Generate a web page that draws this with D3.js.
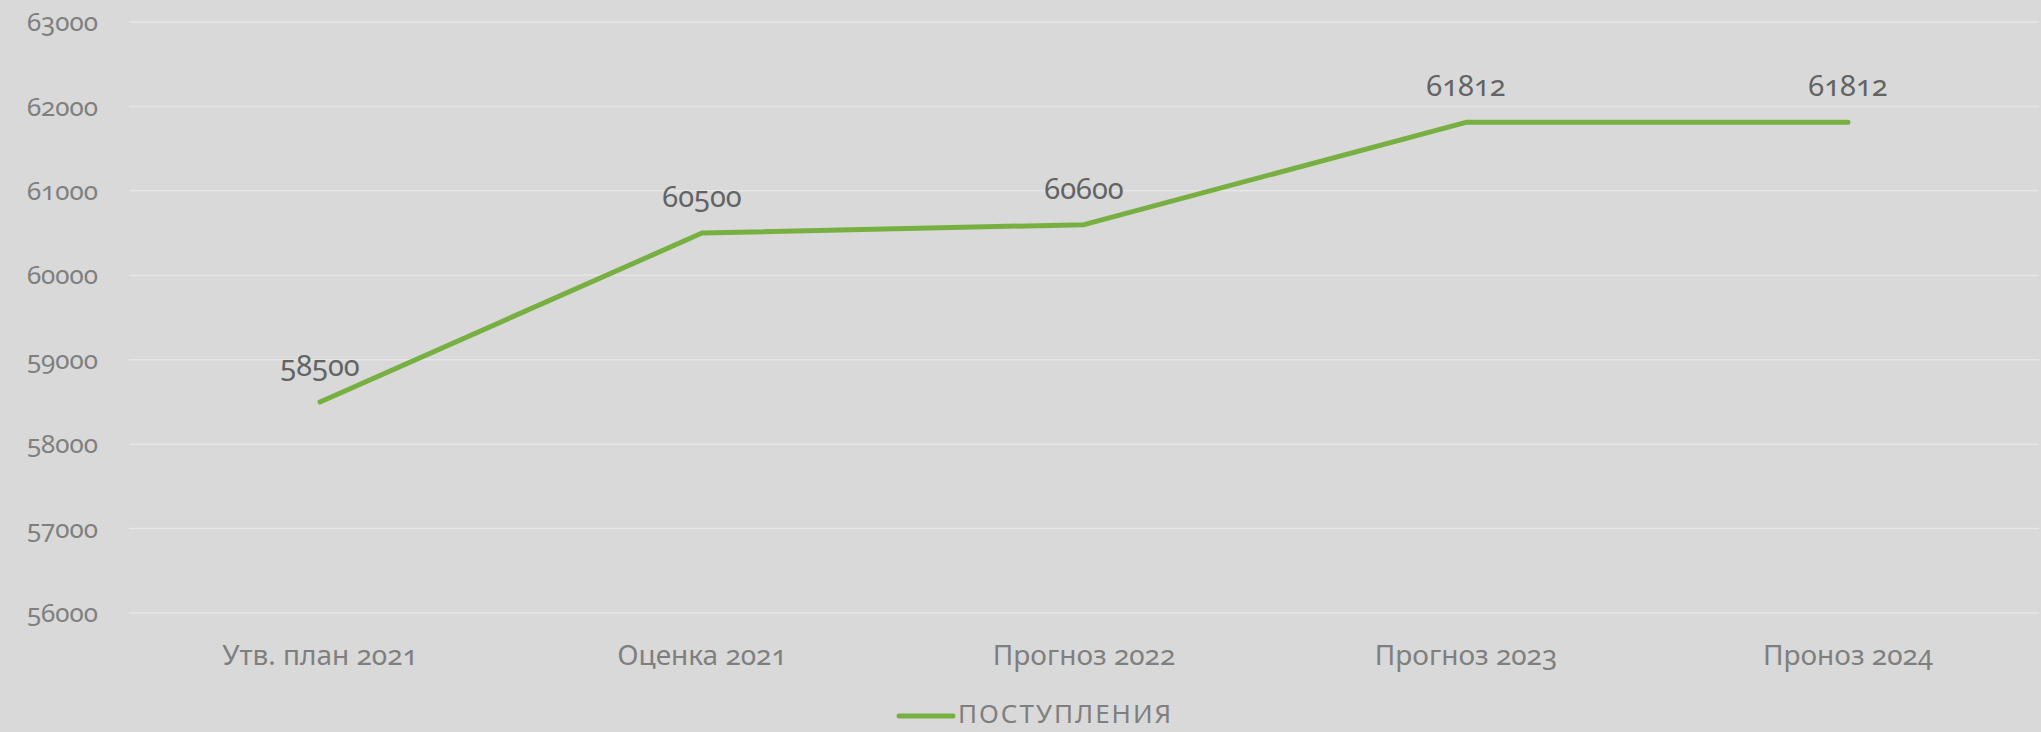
<!DOCTYPE html>
<html>
<head>
<meta charset="utf-8">
<script src="https://cdn.jsdelivr.net/npm/d3@7"></script>
<style>
  html, body { margin: 0; padding: 0; background: #d9d9d9; overflow: hidden; }
  svg { display: block; }
  text { font-family: "Noto Sans", "Open Sans", sans-serif; font-variant-numeric: oldstyle-nums; }
</style>
</head>
<body>
<svg id="chart"></svg>
<script>
// chart data
const categories = ["Утв. план 2021", "Оценка 2021", "Прогноз 2022", "Прогноз 2023", "Проноз 2024"];
const values = [58500, 60500, 60600, 61812, 61812];
const yTicks = [56000, 57000, 58000, 59000, 60000, 61000, 62000, 63000];
const seriesName = "ПОСТУПЛЕНИЯ";

const width = 2041, height = 732;
const margin = { left: 129, right: 2, top: 22, bottom: 732 - 613 };

const svg = d3.select("#chart")
    .attr("width", width)
    .attr("height", height);

svg.append("rect")
    .attr("width", width)
    .attr("height", height)
    .attr("fill", "#d9d9d9");

const x = d3.scalePoint()
    .domain(categories)
    .range([margin.left, width - margin.right])
    .padding(0.5);

const y = d3.scaleLinear()
    .domain([56000, 63000])
    .range([height - margin.bottom, margin.top]);

// gridlines
svg.append("g")
    .selectAll("line")
    .data(yTicks)
    .join("line")
    .attr("x1", margin.left)
    .attr("x2", width - margin.right)
    .attr("y1", d => y(d))
    .attr("y2", d => y(d))
    .attr("stroke", "#e6e6e6")
    .attr("stroke-width", 1.5);

// y axis labels
svg.append("g")
    .selectAll("text")
    .data(yTicks)
    .join("text")
    .attr("x", 98)
    .attr("y", d => y(d))
    .attr("dy", "0.35em")
    .attr("text-anchor", "end")
    .attr("fill", "#7f7f7f")
    .style("font-size", "26px")
    .text(d => d);

// x axis labels
svg.append("g")
    .selectAll("text")
    .data(categories)
    .join("text")
    .attr("x", d => x(d))
    .attr("y", 665)
    .attr("text-anchor", "middle")
    .attr("fill", "#7f7f7f")
    .style("font-size", "28px")
    .text(d => d);

// line
const line = d3.line()
    .x((d, i) => x(categories[i]))
    .y(d => y(d));

svg.append("path")
    .datum(values)
    .attr("d", line)
    .attr("fill", "none")
    .attr("stroke", "#77b041")
    .attr("stroke-width", 5)
    .attr("stroke-linecap", "round")
    .attr("stroke-linejoin", "round");

// data labels
svg.append("g")
    .selectAll("text")
    .data(values)
    .join("text")
    .attr("x", (d, i) => x(categories[i]))
    .attr("y", d => y(d) - 36)
    .attr("dy", "0.35em")
    .attr("text-anchor", "middle")
    .attr("fill", "#636363")
    .style("font-size", "29px")
    .text(d => d);

// legend
const legend = svg.append("g");
legend.append("line")
    .attr("x1", 899)
    .attr("x2", 953)
    .attr("y1", 716)
    .attr("y2", 716)
    .attr("stroke", "#77b041")
    .attr("stroke-width", 5)
    .attr("stroke-linecap", "round");
legend.append("text")
    .attr("x", 958)
    .attr("y", 723)
    .attr("fill", "#7f7f7f")
    .style("font-size", "26px")
    .style("letter-spacing", "2px")
    .text(seriesName);
</script>
</body>
</html>
